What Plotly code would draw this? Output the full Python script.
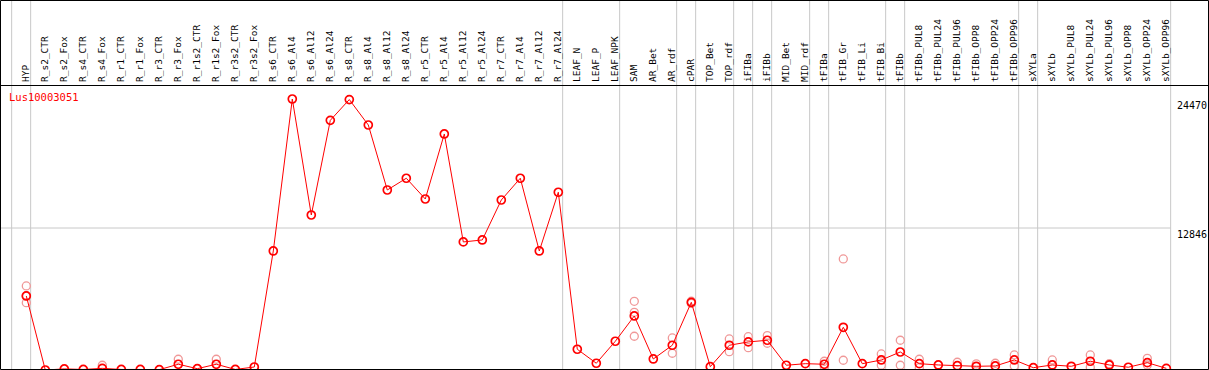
import plotly.graph_objects as go

categories = [
    "HYP", "R_s2_CTR", "R_s2_Fox", "R_s4_CTR", "R_s4_Fox", "R_r1_CTR", "R_r1_Fox",
    "R_r3_CTR", "R_r3_Fox", "R_r1s2_CTR", "R_r1s2_Fox", "R_r3s2_CTR", "R_r3s2_Fox",
    "R_s6_CTR", "R_s6_Al4", "R_s6_Al12", "R_s6_Al24", "R_s8_CTR", "R_s8_Al4",
    "R_s8_Al12", "R_s8_Al24", "R_r5_CTR", "R_r5_Al4", "R_r5_Al12", "R_r5_Al24",
    "R_r7_CTR", "R_r7_Al4", "R_r7_Al12", "R_r7_Al24", "LEAF_N", "LEAF_P", "LEAF_NPK",
    "SAM", "AR_Bet", "AR_rdf", "cPAR", "TOP_Bet", "TOP_rdf", "iFIBa", "iFIBb",
    "MID_Bet", "MID_rdf", "tFIBa", "tFIB_Gr", "tFIB_Li", "tFIB_Bi", "tFIBb",
    "tFIBb_PUL8", "tFIBb_PUL24", "tFIBb_PUL96", "tFIBb_OPP8", "tFIBb_OPP24",
    "tFIBb_OPP96", "sXYLa", "sXYLb", "sXYLb_PUL8", "sXYLb_PUL24", "sXYLb_PUL96",
    "sXYLb_OPP8", "sXYLb_OPP24", "sXYLb_OPP96",
]

mean_values = [
    6722, 50, 150, 100, 200, 100, 100, 80, 570, 170, 570, 100, 320,
    10777, 24470, 14020, 22550, 24420, 22130, 16270, 17330, 15460, 21320,
    11590, 11770, 15370, 17330, 10777, 16070, 1920, 660, 2640,
    4920, 1045, 2280, 6150, 350, 2280, 2580, 2730, 480, 620, 570, 3900,
    620, 955, 1675, 620, 505, 440, 385, 415, 955, 260, 505, 385, 840,
    505, 300, 710, 200,
]

replicate_categories = [
    "HYP", "HYP", "HYP", "R_s4_Fox", "R_r3_Fox", "R_r1s2_Fox",
    "SAM", "SAM", "SAM", "AR_rdf", "AR_rdf", "cPAR", "cPAR",
    "TOP_rdf", "TOP_rdf", "iFIBa", "iFIBa", "iFIBb", "iFIBb",
    "tFIBa", "tFIBa", "tFIB_Gr", "tFIB_Gr", "tFIB_Bi", "tFIB_Bi",
    "tFIBb", "tFIBb", "tFIBb_PUL8", "tFIBb_PUL8", "tFIBb_PUL96",
    "tFIBb_OPP8", "tFIBb_OPP24", "tFIBb_OPP96", "tFIBb_OPP96",
    "sXYLb", "sXYLb_PUL24", "sXYLb_PUL24", "sXYLb_PUL96",
    "sXYLb_OPP24", "sXYLb_OPP24",
]
replicate_values = [
    7623, 6722, 6118, 480, 1020, 1020,
    6240, 5250, 3090, 2940, 1560, 6250, 6050,
    2850, 1700, 3050, 2060, 3150, 2460,
    840, 350, 10056, 930, 1500, 480,
    2730, 480, 1020, 260, 750,
    600, 660, 1405, 415,
    955, 1405, 300, 620,
    1100, 500,
]

# group separators: placed just after these category indices
separator_after = [-1, 0, 28, 31, 34, 35, 37, 38, 39, 41, 42, 45, 46, 52, 53, 60]
y_tick_values = [24470, 12846, 0]
gene_name = "Lus10003051"

W, H = 1209, 370
ML, MR, MT, MB = 1, 1, 85, 1
PW = W - ML - MR
PH = H - MT - MB
px_per_cat = 19.0
first_px = 26.3
x0 = -(first_px - ML) / px_per_cat
x1 = x0 + PW / px_per_cat
units_per_px = 90.11
y_lo = 141
y_hi = y_lo + PH * units_per_px

mono = "DejaVu Sans Mono"
grid = "#c8c8c8"

fig = go.Figure()
fig.add_trace(go.Scatter(
    x=replicate_categories, y=replicate_values, mode="markers",
    marker=dict(symbol="circle-open", size=8, color="#f09898", line=dict(width=1.3)),
    hoverinfo="skip", showlegend=False,
))
fig.add_trace(go.Scatter(
    x=categories, y=mean_values, mode="lines+markers",
    line=dict(color="#ff0000", width=1),
    marker=dict(symbol="circle-open", size=8, color="#ff0000", line=dict(width=1.7)),
    showlegend=False,
))

shapes = []
off = 0.23
top_paper = 1 + (MT - 0.5) / PH
for s in separator_after:
    shapes.append(dict(type="line", xref="x", yref="paper", x0=s + off, x1=s + off,
                       y0=-0.01, y1=top_paper + 0.01, line=dict(color=grid, width=1),
                       layer="below"))
shapes.append(dict(type="line", xref="x", yref="y", x0=x0 - 1, x1=separator_after[-1] + off,
                   y0=y_tick_values[1], y1=y_tick_values[1], line=dict(color=grid, width=1),
                   layer="below"))
# borders
bl = -0.5 / PW
br = 1 + 0.5 / PW
bb = -0.5 / PH
for (xa, xb, ya, yb) in [(bl, br, top_paper, top_paper), (bl, br, bb, bb),
                         (bl, bl, bb, top_paper), (br, br, bb, top_paper),
                         (bl, br, 1 - 0.5 / PH, 1 - 0.5 / PH)]:
    shapes.append(dict(type="line", xref="paper", yref="paper", x0=xa, x1=xb, y0=ya, y1=yb,
                       line=dict(color="black", width=1)))

annotations = [
    dict(text=gene_name, xref="paper", yref="paper", x=0, y=1, xanchor="left", yanchor="top",
         xshift=6, yshift=-4, showarrow=False, font=dict(family=mono, size=10.5, color="#ff0000")),
]
for v in y_tick_values:
    if v == 0:
        annotations.append(dict(text=str(v), xref="paper", yref="y", x=1, y=v, xanchor="right",
                                yanchor="bottom", xshift=-22, yshift=2, showarrow=False,
                                font=dict(family=mono, size=10, color="black")))
    else:
        annotations.append(dict(text=str(v), xref="paper", yref="y", x=1, y=v, xanchor="right",
                                yanchor="top", xshift=1, yshift=1, showarrow=False,
                                font=dict(family=mono, size=10, color="black")))

fig.update_layout(
    width=W, height=H,
    margin=dict(l=ML, r=MR, t=MT, b=MB, pad=0),
    paper_bgcolor="white", plot_bgcolor="white",
    shapes=shapes, annotations=annotations,
    xaxis=dict(type="category", categoryorder="array", categoryarray=categories,
               range=[x0, x1], side="top", tickangle=-90, showgrid=False, zeroline=False,
               showline=False, ticks="", ticklabelstandoff=2,
               tickfont=dict(family=mono, size=9.5, color="black"), fixedrange=True),
    yaxis=dict(range=[y_lo, y_hi], showgrid=False, zeroline=False, showticklabels=False,
               showline=False, ticks="", fixedrange=True),
)

fig.write_html("out.html", config={"displayModeBar": False},
               post_script="document.body.style.margin='0';document.body.style.overflow='hidden';")
